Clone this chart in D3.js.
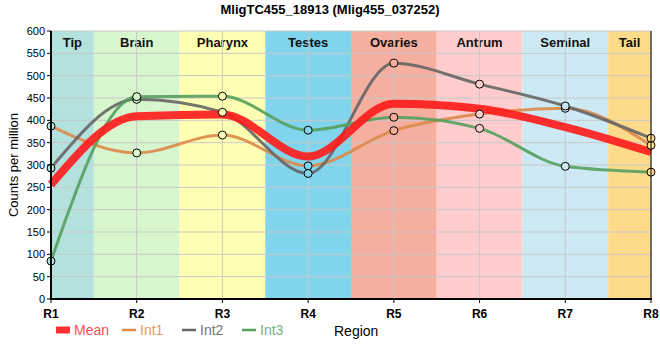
<!DOCTYPE html>
<html><head><meta charset="utf-8">
<script src="https://cdn.jsdelivr.net/npm/d3@7"></script>
<style>body{margin:0;background:#fff}svg{display:block}text{font-family:"Liberation Sans",Arial,sans-serif}</style>
</head><body>
<svg id="c" width="660" height="360"></svg>
<script>
const regions = ["R1","R2","R3","R4","R5","R6","R7","R8"];
const bandNames = ["Tip","Brain","Pharynx","Testes","Ovaries","Antrum","Seminal","Tail"];
const bandColors = ["#b3e2de","#d7f6cd","#ffffb3","#80d4eb","#f6ae9f","#ffcdcd","#cdeaf4","#fedb8b"];
const yTicks = [0,50,100,150,200,250,300,350,400,450,500,550,600];
const meanVals = [256,409,413,319,437,426,385,329];
const int1 = [387,327,367,298,377,414,427,344];
const int2 = [293,447,418,281,528,481,432,360];
const int3 = [85,453,454,378,407,382,297,284];
const series = [
  {name:"Int1", values:int1, color:"#dc8a4a", width:3},
  {name:"Int2", values:int2, color:"#666666", width:3},
  {name:"Int3", values:int3, color:"#55a05f", width:3}
];

const svg = d3.select("#c");
const L=51, R=651, T=31, B=299;
const x = d3.scaleLinear().domain([0,7]).range([L,R]);
const y = d3.scaleLinear().domain([0,600]).range([B,T]);

// bands
const g = svg.append("g");
bandNames.forEach((n,i)=>{
  const x0 = x(Math.max(0,i-0.5)), x1 = x(Math.min(7,i+0.5));
  g.append("rect").attr("x",x0).attr("y",T).attr("width",x1-x0).attr("height",B-T).attr("fill",bandColors[i]);
  g.append("text").attr("x",(x0+x1)/2).attr("y",T+16).attr("text-anchor","middle")
    .attr("font-size",13).attr("font-weight","bold").attr("fill","#111").text(n);
});
// grid
yTicks.forEach(t=>{
  g.append("line").attr("x1",L).attr("x2",R).attr("y1",y(t)).attr("y2",y(t)).attr("stroke","#c8c8c8").attr("stroke-width",1);
});
regions.forEach((r,i)=>{
  g.append("line").attr("x1",x(i)).attr("x2",x(i)).attr("y1",T).attr("y2",B).attr("stroke","#c8c8c8").attr("stroke-width",1);
});

const line = d3.line().x((d,i)=>x(i)).y(d=>y(d)).curve(d3.curveMonotoneX);
// lines
series.forEach(s=>{
  svg.append("path").attr("d",line(s.values)).attr("fill","none").attr("stroke",s.color)
    .attr("stroke-width",s.width).attr("stroke-opacity",0.9);
});
svg.append("path").attr("d",line(meanVals)).attr("fill","none").attr("stroke","#ff1a1a")
  .attr("stroke-width",8).attr("stroke-opacity",0.9);
// points
series.forEach(s=>{
  s.values.forEach((v,i)=>{
    svg.append("circle").attr("cx",x(i)).attr("cy",y(v)).attr("r",4)
      .attr("fill",bandColors[i]).attr("stroke","#000").attr("stroke-width",1);
  });
});

// axes
svg.append("line").attr("x1",L).attr("x2",L).attr("y1",T).attr("y2",B+1).attr("stroke","#000").attr("stroke-width",2);
svg.append("line").attr("x1",L-1).attr("x2",R+1).attr("y1",B).attr("y2",B).attr("stroke","#000").attr("stroke-width",2);
svg.append("line").attr("x1",R).attr("x2",R).attr("y1",T).attr("y2",B).attr("stroke","#000").attr("stroke-width",1);
yTicks.forEach(t=>{
  svg.append("line").attr("x1",L-4).attr("x2",L).attr("y1",y(t)).attr("y2",y(t)).attr("stroke","#000");
  svg.append("text").attr("x",L-6).attr("y",y(t)+4).attr("text-anchor","end").attr("font-size",11).attr("fill","#000").text(t);
});
regions.forEach((r,i)=>{
  svg.append("line").attr("x1",x(i)).attr("x2",x(i)).attr("y1",B).attr("y2",B+4).attr("stroke","#000");
  svg.append("text").attr("x",x(i)).attr("y",B+19).attr("text-anchor","middle").attr("font-size",12).attr("font-weight","bold").text(r);
});
svg.append("text").attr("transform",`translate(18,${(T+B)/2}) rotate(-90)`).attr("text-anchor","middle")
  .attr("font-size",13).text("Counts per million");
svg.append("text").attr("x",330).attr("y",14).attr("text-anchor","middle").attr("font-size",13)
  .attr("font-weight","bold").text("MligTC455_18913 (Mlig455_037252)");

// legend
const ly = 330;
svg.append("rect").attr("x",56).attr("y",ly-3.5).attr("width",14).attr("height",7).attr("fill","#ff3333");
svg.append("text").attr("x",74).attr("y",ly+5).attr("font-size",14).attr("fill","#ff4d5a").text("Mean");
const legX = [122,182,242];
const legText = ["#e59a68","#777777","#6fb585"];
series.forEach((s,i)=>{
  svg.append("line").attr("x1",legX[i]).attr("x2",legX[i]+14).attr("y1",ly).attr("y2",ly).attr("stroke",s.color).attr("stroke-width",2.5);
  svg.append("text").attr("x",legX[i]+18).attr("y",ly+5).attr("font-size",14).attr("fill",legText[i]).text(s.name);
});
svg.append("text").attr("x",334).attr("y",ly+6).attr("font-size",14).attr("fill","#000").text("Region");
</script>
</body></html>
